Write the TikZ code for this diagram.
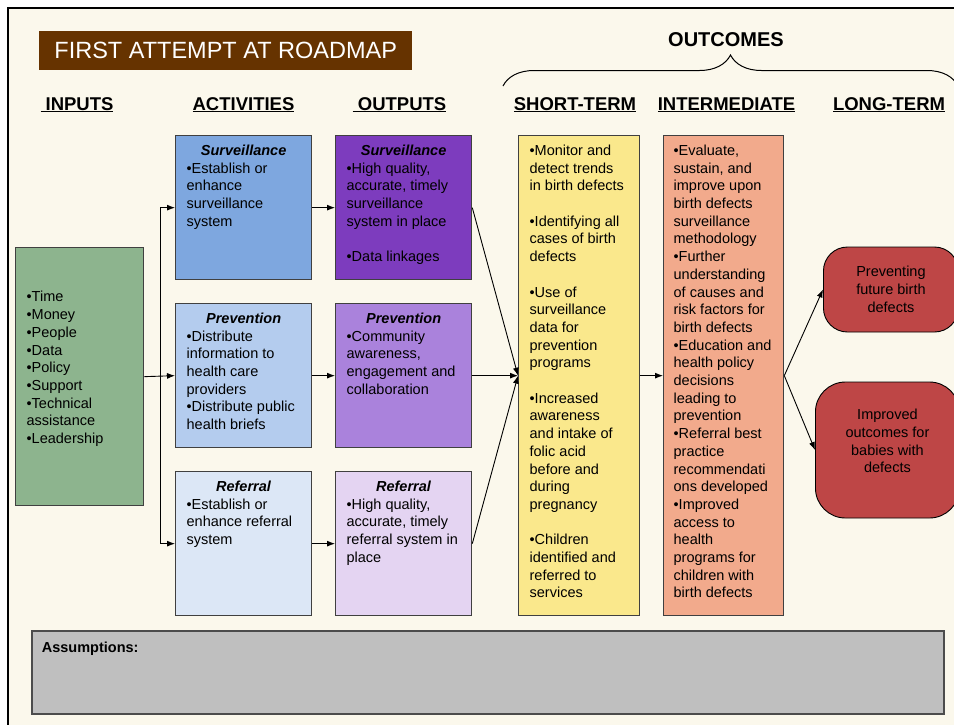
\documentclass[tikz,border=0pt]{standalone}
\usepackage{fontspec}
\setmainfont{Liberation Sans}
\usetikzlibrary{arrows.meta,decorations.pathreplacing}
\definecolor{paper}{RGB}{251,248,236}
\definecolor{roadbrown}{RGB}{102,51,0}
\definecolor{inputgreen}{RGB}{141,180,142}
\definecolor{survblue}{RGB}{126,167,223}
\definecolor{prevblue}{RGB}{180,204,238}
\definecolor{refblue}{RGB}{220,231,246}
\definecolor{survpurple}{RGB}{125,60,190}
\definecolor{prevpurple}{RGB}{170,130,220}
\definecolor{refpurple}{RGB}{228,212,242}
\definecolor{shortyellow}{RGB}{250,232,140}
\definecolor{midsalmon}{RGB}{242,170,140}
\definecolor{longred}{RGB}{190,70,70}
\definecolor{assumgray}{RGB}{191,191,191}
\tikzstyle{stage}=[draw=black!75,line width=1.3pt,anchor=north west,inner xsep=11pt,inner ysep=0pt]
\tikzstyle{heading}=[anchor=base,font=\fontsize{18.5}{22}\selectfont\bfseries]
\tikzstyle{goal}=[draw=black,line width=0.9pt,align=center,anchor=west,font=\fontsize{14.5}{17.7}\selectfont]
\tikzstyle{flow}=[-{Latex[length=8pt,width=6pt]},line width=0.9pt]
\newcommand{\boxbody}[4][19.8pt]{\parbox[t][#2][t]{#3}{\fontsize{14.5}{17.7}\selectfont\raggedright\rule{0pt}{#1}#4}}
\newcommand{\boxtitle}[1]{\hfill\textbf{\textit{#1}}\hfill\null\\}

\begin{document}
\begin{tikzpicture}[x=1pt,y=-1pt]
\useasboundingbox (0,0) rectangle (954,724);
\fill[white] (0,0) rectangle (954,724);
\draw[line width=2.6pt,fill=paper] (8,8) rectangle (1000,780);

\node[fill=roadbrown,text=white,minimum width=373pt,minimum height=39pt,anchor=north west,inner sep=0pt,font=\fontsize{23.5}{28}\selectfont] (title) at (39,31) {FIRST ATTEMPT AT ROADMAP};

\node[heading] (hinputs) at (77,110) {\underline{\ INPUTS}};
\node[heading] (hactivities) at (243.5,110) {\underline{ACTIVITIES}};
\node[heading] (houtputs) at (399.5,110) {\underline{\ OUTPUTS}};
\node[heading] (hshort) at (575,110) {\underline{SHORT-TERM}};
\node[heading] (hinter) at (726.5,110) {\underline{INTERMEDIATE}};
\node[heading] (hlong) at (889,110) {\underline{LONG-TERM}};
\node[heading,font=\fontsize{20}{24}\selectfont\bfseries] (houtcomes) at (726,46) {OUTCOMES};
\coordinate (bracel) at (503,86);
\coordinate (bracer) at (958,86);
\draw[decorate,decoration={brace,amplitude=31pt},line width=1pt] (bracel) -- (bracer);

\node[stage,fill=inputgreen] (inputs) at (15,247) {\boxbody[54.3pt]{258pt}{106pt}{%
  •Time\\•Money\\•People\\•Data\\•Policy\\•Support\\•Technical\\assistance\\•Leadership}};

\node[stage,fill=survblue] (actsurv) at (175,135) {\boxbody{144pt}{114pt}{\boxtitle{Surveillance}%
  •Establish or\\enhance\\surveillance\\system}};
\node[stage,fill=prevblue] (actprev) at (175,303) {\boxbody{144pt}{114pt}{\boxtitle{Prevention}%
  •Distribute\\information to\\health care\\providers\\•Distribute public\\health briefs}};
\node[stage,fill=refblue] (actref) at (175,471) {\boxbody{144pt}{114pt}{\boxtitle{Referral}%
  •Establish or\\enhance referral\\system}};

\node[stage,fill=survpurple] (outsurv) at (335,135) {\boxbody{144pt}{114pt}{\boxtitle{Surveillance}%
  •High quality,\\accurate, timely\\surveillance\\system in place\\[17.7pt]•Data linkages}};
\node[stage,fill=prevpurple] (outprev) at (335,303) {\boxbody{144pt}{114pt}{\boxtitle{Prevention}%
  •Community\\awareness,\\engagement and\\collaboration}};
\node[stage,fill=refpurple] (outref) at (335,471) {\boxbody{144pt}{114pt}{\boxtitle{Referral}%
  •High quality,\\accurate, timely\\referral system in\\place}};

\node[stage,fill=shortyellow] (shortterm) at (518,135) {\boxbody{480pt}{99pt}{%
  •Monitor and\\detect trends\\in birth defects\\[17.7pt]
  •Identifying all\\cases of birth\\defects\\[17.7pt]
  •Use of\\surveillance\\data for\\prevention\\programs\\[17.7pt]
  •Increased\\awareness\\and intake of\\folic acid\\before and\\during\\pregnancy\\[17.7pt]
  •Children\\identified and\\referred to\\services}};
\node[stage,fill=midsalmon,inner xsep=10pt] (interm) at (663,135) {\boxbody{480pt}{100pt}{%
  •Evaluate,\\sustain, and\\improve upon\\birth defects\\surveillance\\methodology\\
  •Further\\understanding\\of causes and\\risk factors for\\birth defects\\
  •Education and\\health policy\\decisions\\leading to\\prevention\\
  •Referral best\\practice\\recommendati\\ons developed\\
  •Improved\\access to\\health\\programs for\\children with\\birth defects}};

\node[goal,fill=longred,rounded corners=24pt,minimum width=135pt,minimum height=85pt] (ltprev) at (823,289.5) {Preventing\\future birth\\defects};
\node[goal,fill=longred,rounded corners=30pt,minimum width=144pt,minimum height=136pt] (ltimp) at (815,450) {Improved\\outcomes for\\babies with\\defects\\\mbox{}};

\node[stage,fill=assumgray,draw=black!70,line width=1.8pt,inner xsep=10pt] (assume) at (31,630) {\boxbody[21.2pt]{83pt}{892pt}{\textbf{Assumptions:}}};

\coordinate (split) at (160,376);
\draw[flow] (inputs.east) -- (actprev.west);
\draw[flow] (split) |- (actsurv.west);
\draw[flow] (split) |- (actref.west);
\draw[flow] (actsurv) -- (outsurv);
\draw[flow] (actprev) -- (outprev);
\draw[flow] (actref) -- (outref);
\draw[flow] (outsurv.east) -- (shortterm.west);
\draw[flow] (outprev.east) -- (shortterm.west);
\draw[flow] (outref.east) -- (shortterm.west);
\draw[flow] (shortterm) -- (interm);
\draw[flow] (interm.east) -- (ltprev.west);
\draw[flow] (interm.east) -- (ltimp.west);
\end{tikzpicture}
\end{document}
